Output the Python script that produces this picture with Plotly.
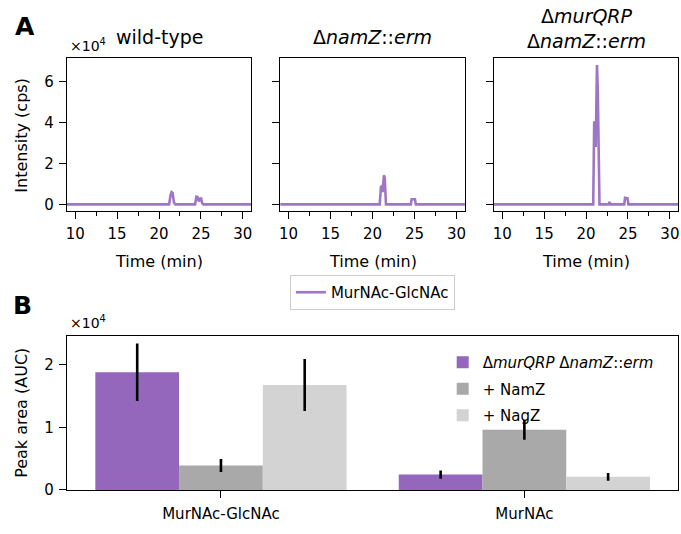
import plotly.graph_objects as go

W, H = 681, 534

# ---------------- data: chromatograms (intensity in cps) ----------------
wt_time = [9.0, 12.7, 12.9, 13.1, 16.0, 21.2, 21.38, 21.5, 21.62, 21.78, 21.95,
           24.3, 24.45, 24.6, 24.75, 24.9, 25.02, 25.15, 25.3, 31.0]
wt_int = [0, 0, 300, 0, 0, 0, 4500, 6000, 5600, 900, 0,
          0, 3800, 3600, 1500, 2800, 2900, 500, 0, 0]

namz_time = [9.0, 16.0, 20.85, 21.0, 21.1, 21.2, 21.35, 21.45, 21.6,
             24.55, 24.65, 25.05, 25.15, 31.0]
namz_int = [0, 0, 0, 8500, 8800, 6000, 14200, 13000, 0,
            0, 2500, 2500, 0, 0]

dbl_time = [9.0, 12.9, 13.0, 13.1, 20.85, 20.97, 21.05, 21.15, 21.3, 21.4, 21.6,
            22.7, 22.8, 22.9, 24.55, 24.65, 24.95, 25.05, 31.0]
dbl_int = [0, 0, 300, 0, 0, 40500, 39000, 28000, 68000, 55000, 0,
           0, 1200, 0, 0, 3200, 3000, 0, 0]

panel_titles = ["wild-type", "Δ<i>namZ</i>::<i>erm</i>",
                "Δ<i>murQRP</i><br>Δ<i>namZ</i>::<i>erm</i>"]
time_ticks = [10, 15, 20, 25, 30]
int_ticks = [0, 20000, 40000, 60000]
int_tick_text = ["0", "2", "4", "6"]

# ---------------- data: peak areas ----------------
categories = ["MurNAc-GlcNAc", "MurNAc"]
strain_names = ["Δ<i>murQRP</i> Δ<i>namZ</i>::<i>erm</i>", "+ NamZ", "+ NagZ"]
auc_mean = [[18800, 2450], [3900, 9620], [16750, 2090]]
auc_err = [[4600, 660], [1050, 1600], [4150, 630]]
auc_ticks = [0, 10000, 20000]
auc_tick_text = ["0", "1", "2"]

PURPLE = "#9467bd"
bar_colors = [PURPLE, "#a9a9a9", "#d3d3d3"]
FONT = "DejaVu Sans"

fig = go.Figure()

xd = [(66 / W, 251 / W), (280 / W, 465.3 / W), (494.3 / W, 679.3 / W)]
yd_top = (1 - 215 / H, 1 - 59 / H)
yd_bot = (1 - 498.3 / H, 1 - 341.7 / H)

series = [(wt_time, wt_int), (namz_time, namz_int), (dbl_time, dbl_int)]
for i, (t, v) in enumerate(series):
    ax = "" if i == 0 else str(i + 1)
    fig.add_trace(go.Scatter(
        x=t, y=v, mode="lines", name="MurNAc-GlcNAc",
        line=dict(color="rgba(148,103,189,0.9)", width=2.6),
        xaxis="x" + ax, yaxis="y" + ax,
        showlegend=(i == 0), legend="legend"))

for k in range(3):
    fig.add_trace(go.Bar(
        x=[0, 1], y=auc_mean[k], name=strain_names[k],
        marker=dict(color=bar_colors[k], line=dict(width=0)),
        error_y=dict(type="data", array=auc_err[k], color="black",
                     thickness=2.6, width=0),
        xaxis="x4", yaxis="y4", legend="legend2", legendgroup="g%d" % k))

axis_common = dict(showline=True, linecolor="black", linewidth=1, mirror=True,
                   ticks="outside", ticklen=7, tickwidth=1, tickcolor="black",
                   showgrid=False, zeroline=False,
                   tickfont=dict(family=FONT, size=15, color="black"))

layout = dict(width=W, height=H, margin=dict(l=0, r=0, t=0, b=0),
              paper_bgcolor="white", plot_bgcolor="white",
              font=dict(family=FONT, color="black"),
              barmode="group", bargap=0.172, bargroupgap=0)

for i in range(3):
    ax = "" if i == 0 else str(i + 1)
    layout["xaxis" + ax] = dict(axis_common, domain=xd[i], range=[9, 31],
                                tickvals=time_ticks, ticklabelstandoff=2,
                                minor=dict(dtick=2.5, tick0=0, ticks="outside",
                                           ticklen=4, tickwidth=1, tickcolor="black"),
                                anchor="y" + ax)
    layout["yaxis" + ax] = dict(axis_common, domain=yd_top, range=[-3400, 71400],
                                tickvals=int_ticks, ticktext=int_tick_text,
                                showticklabels=(i == 0), anchor="x" + ax,
                                ticklabelstandoff=2)

layout["xaxis4"] = dict(axis_common, domain=(66 / W, 678.6 / W), range=[-0.508, 1.505],
                        tickvals=[0, 1], ticktext=categories, anchor="y4",
                        ticklabelstandoff=3)
layout["yaxis4"] = dict(axis_common, domain=yd_bot, range=[0, 24600],
                        tickvals=auc_ticks, ticktext=auc_tick_text, anchor="x4",
                        ticklabelstandoff=2)

layout["legend"] = dict(x=372.5 / W, y=1 - 297.5 / H, xanchor="center", yanchor="middle",
                        bgcolor="white", bordercolor="#cccccc", borderwidth=1,
                        font=dict(family=FONT, size=15, color="black"))
layout["legend2"] = dict(x=443 / W, y=1 - 352 / H, xanchor="left", yanchor="top",
                         bgcolor="rgba(255,255,255,0)", borderwidth=0,
                         tracegroupgap=4,
                         font=dict(family=FONT, size=15, color="black"))

fig.update_layout(**layout)

ann = []
def A(x, y, text, size=15, angle=0, xa="center", ya="middle"):
    ann.append(dict(x=x / W, y=1 - y / H, xref="paper", yref="paper", text=text,
                    showarrow=False, textangle=angle, xanchor=xa, yanchor=ya,
                    font=dict(family=FONT, size=size, color="black")))

A(24, 27, "<b>A</b>", size=25)
A(22, 311, "<b>B</b>", size=25)
centers = [158.5, 372.7, 586.8]
A(centers[0], 38, panel_titles[0], size=19)
A(centers[1], 38, panel_titles[1], size=19)
A(centers[2], 29, panel_titles[2], size=19)
for c in centers:
    A(c, 266, "Time (min)", size=16)
A(21, 137, "Intensity (cps)", size=16, angle=-90)
A(21, 420, "Peak area (AUC)", size=16, angle=-90)
A(67, 46, "×10<sup>4</sup>", size=14, xa="left")
A(67, 328, "×10<sup>4</sup>", size=14, xa="left")

fig.update_layout(annotations=ann)
fig.write_html("out.html")
